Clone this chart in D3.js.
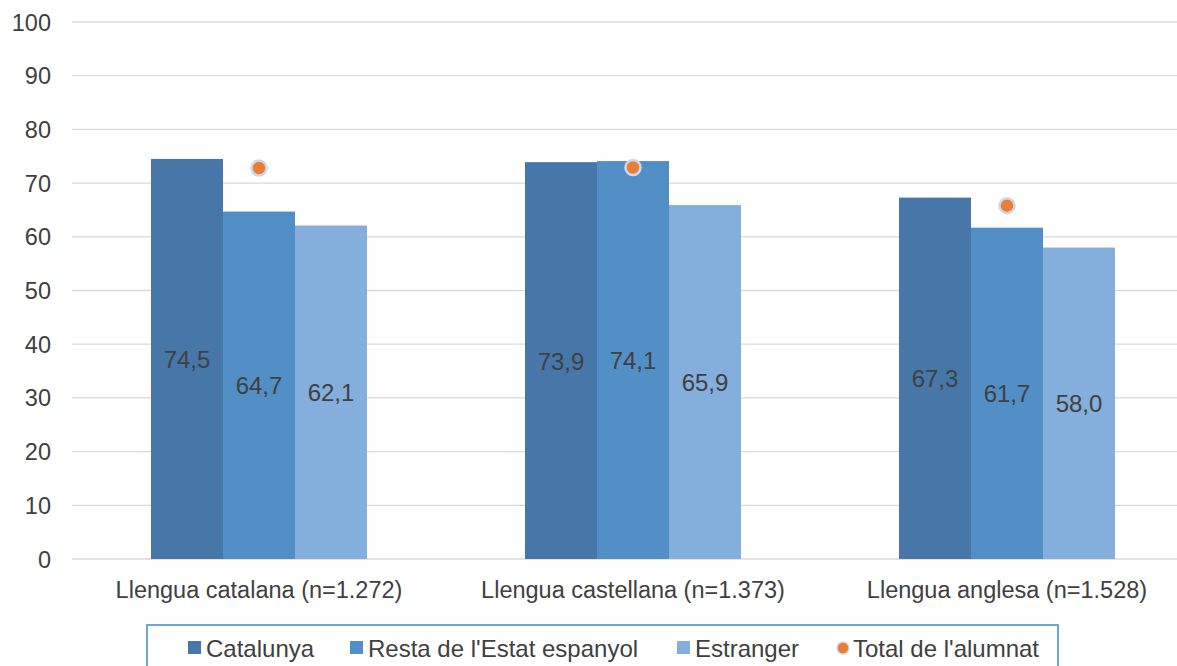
<!DOCTYPE html>
<html>
<head>
<meta charset="utf-8">
<script src="https://cdn.jsdelivr.net/npm/d3@7"></script>
<style>
  body { margin: 0; background: #fff; }
  svg { display: block; font-family: "Liberation Sans", Arial, sans-serif; }
</style>
</head>
<body>
<div id="chart"></div>
<script>
const categories = ["Llengua catalana (n=1.272)", "Llengua castellana (n=1.373)", "Llengua anglesa (n=1.528)"]
const seriesNames = ["Catalunya", "Resta de l'Estat espanyol", "Estranger"]
const catalunya = [74.5, 73.9, 67.3]
const restaEstat = [64.7, 74.1, 61.7]
const estranger = [62.1, 65.9, 58.0]
const totalAlumnat = [72.8, 72.9, 65.8]
const yTicks = [0, 10, 20, 30, 40, 50, 60, 70, 80, 90, 100]

const width = 1177, height = 666
const colors = ["#4677a8", "#528fc6", "#84aedb"]
const dotColor = "#ed7d31"
const textColor = "#404040"

const svg = d3.select("#chart").append("svg")
  .attr("width", width).attr("height", height)

const y = d3.scaleLinear().domain([0, 100]).range([559, 22])
const x = d3.scaleBand().domain(categories).range([72, 1194]).paddingInner(0).paddingOuter(0)
const xs = d3.scaleBand().domain(seriesNames).range([0, x.bandwidth()]).paddingInner(0).paddingOuter(1.097)

// gridlines
svg.append("g").selectAll("line").data(yTicks).join("line")
  .attr("x1", 72).attr("x2", width)
  .attr("y1", d => y(d)).attr("y2", d => y(d))
  .attr("stroke", "#d9d9d9").attr("stroke-width", 1.3)

// y axis labels
svg.append("g").selectAll("text").data(yTicks).join("text")
  .attr("x", 51).attr("y", d => y(d) + 8.5)
  .attr("text-anchor", "end").attr("font-size", 23.5).attr("fill", textColor)
  .text(d => d)

const seriesData = [catalunya, restaEstat, estranger]
const rows = []
categories.forEach((c, i) => seriesData.forEach((s, j) => rows.push({ c, name: seriesNames[j], v: s[i], j })))

const g = svg.append("g")
g.selectAll("rect").data(rows).join("rect")
  .attr("x", d => x(d.c) + xs(d.name))
  .attr("y", d => y(d.v))
  .attr("width", xs.bandwidth())
  .attr("height", d => y(0) - y(d.v))
  .attr("fill", d => colors[d.j])

g.selectAll("text.val").data(rows).join("text")
  .attr("class", "val")
  .attr("x", d => x(d.c) + xs(d.name) + xs.bandwidth() / 2)
  .attr("y", d => (y(d.v) + y(0)) / 2 + 9)
  .attr("text-anchor", "middle").attr("font-size", 24).attr("fill", textColor)
  .text(d => d3.format(".1f")(d.v).replace(".", ","))

// total dots
svg.append("g").selectAll("circle").data(categories).join("circle")
  .attr("cx", d => x(d) + x.bandwidth() / 2)
  .attr("cy", (d, i) => y(totalAlumnat[i]))
  .attr("r", 7.5)
  .attr("fill", dotColor)
  .attr("stroke", "#c8d8ef").attr("stroke-width", 2.5)

// category labels
svg.append("g").selectAll("text").data(categories).join("text")
  .attr("x", d => x(d) + x.bandwidth() / 2)
  .attr("y", 598)
  .attr("text-anchor", "middle").attr("font-size", 23.5).attr("fill", textColor)
  .text(d => d)

// legend
svg.append("rect")
  .attr("x", 147).attr("y", 625).attr("width", 911).attr("height", 60)
  .attr("fill", "none").attr("stroke", "#6fa6da").attr("stroke-width", 2)

const legendItems = [
  { label: seriesNames[0], color: colors[0], x: 206, type: "rect" },
  { label: seriesNames[1], color: colors[1], x: 368, type: "rect" },
  { label: seriesNames[2], color: colors[2], x: 695, type: "rect" },
  { label: "Total de l'alumnat", color: dotColor, x: 853, type: "dot" }
]
const lg = svg.append("g").selectAll("g").data(legendItems).join("g")
  .attr("transform", d => `translate(${d.x},648)`)
lg.filter(d => d.type === "rect").append("rect")
  .attr("x", -18).attr("y", -7).attr("width", 13).attr("height", 13).attr("fill", d => d.color)
lg.filter(d => d.type === "dot").append("circle")
  .attr("cx", -10).attr("cy", 0).attr("r", 6).attr("fill", d => d.color)
  .attr("stroke", "#c8d8ef").attr("stroke-width", 1.5)
lg.append("text")
  .attr("x", 0).attr("y", 9)
  .attr("font-size", 24).attr("fill", textColor)
  .text(d => d.label)
</script>
</body>
</html>
